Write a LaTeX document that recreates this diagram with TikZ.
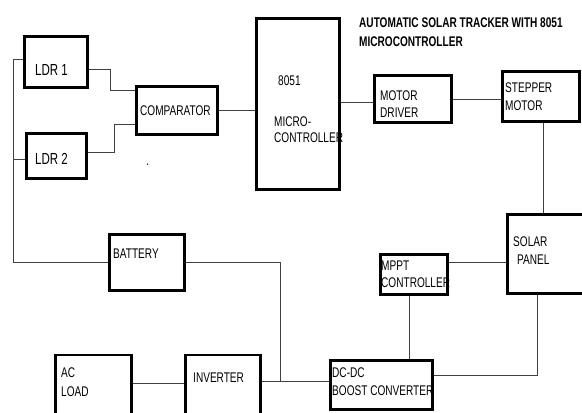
\documentclass[tikz,border=0pt]{standalone}
\usepackage{fontspec}
\setmainfont{Liberation Sans}[FakeStretch=0.72]
\usetikzlibrary{positioning}

\begin{document}
\begin{tikzpicture}[x=1pt, y=-1pt,
    block/.style={rectangle, draw, line width=2.6pt, inner sep=0pt},
    wire/.style={draw=black!75, line width=0.9pt},
    lbl/.style={inner sep=0pt, align=left, anchor=base west, font=\fontsize{14}{17}\selectfont},
    lbls/.style={lbl, anchor=north west}
]
\useasboundingbox (0,0) rectangle (582,413);
\clip (0,0) rectangle (582,413);
% blocks
\node[block, minimum width=63, minimum height=51] (ldr1) at (56,62) {};
\node[block, minimum width=60, minimum height=45] (ldr2) at (56.5,156) {};
\node[block, minimum width=81, minimum height=48] (comp) at (177,110.5) {};
\node[block, minimum width=83, minimum height=171] (mcu) at (298,104) {};
\node[block, minimum width=77, minimum height=47] (drv) at (413,99) {};
\node[block, minimum width=77, minimum height=50] (stm) at (541,96.5) {};
\node[block, minimum width=85, minimum height=79] (sol) at (550,254) {};
\node[block, minimum width=67, minimum height=40] (mppt) at (414,274.5) {};
\node[block, minimum width=102, minimum height=49] (dcdc) at (381.5,385) {};
\node[block, minimum width=75, minimum height=56] (bat) at (147,262.5) {};
\node[block, minimum width=76, minimum height=66] (ac) at (93.5,388) {};
\node[block, minimum width=75, minimum height=66] (inv) at (223,388) {};
% texts
\node[lbl, font=\fontsize{16}{19}\selectfont] (ldr1t) at (35,75) {LDR 1};
\node[lbl, font=\fontsize{16}{19}\selectfont] (ldr2t) at (35,164) {LDR 2};
\node[lbl] (compt) at (140,115) {COMPARATOR};
\node[lbl] (mcut1) at (278,85) {8051};
\node[lbls, font=\fontsize{14}{16}\selectfont] (mcut2) at (274,117) {MICRO-\\CONTROLLER};
\node[lbls] (drvt) at (380,91) {MOTOR\\DRIVER};
\node[lbls, font=\fontsize{14}{18}\selectfont] (stmt) at (505,83) {STEPPER\\MOTOR};
\node[lbls, font=\fontsize{14}{18}\selectfont] (solt) at (513,237) {SOLAR\\\hspace*{4pt}PANEL};
\node[lbls] (mpptt) at (381,261) {MPPT\\CONTROLLER};
\node[lbls, font=\fontsize{14}{18}\selectfont] (dcdct) at (332,368) {DC-DC\\BOOST CONVERTER};
\node[lbl] (batt) at (113,258) {BATTERY};
\node[lbls, font=\fontsize{14}{19}\selectfont] (act) at (61,368) {AC\\LOAD};
\node[lbl] (invt) at (193,382) {INVERTER};
\node[lbl] (dot) at (146,165) {.};
\node[lbls, font=\fontsize{14}{19}\selectfont\bfseries] (title) at (359,18) {AUTOMATIC SOLAR TRACKER WITH 8051\\MICROCONTROLLER};
% bus points
\coordinate (busT) at (13,59);
\coordinate (busB) at (13,262);
\coordinate (tap) at (280,262);
\coordinate (join) at (280,381);
% connectors
\draw[wire] (ldr1.west |- busT) -- (busT) -- (busB) -- (bat.west |- busB);
\draw[wire] (ldr2.west |- 0,159) -- (busT |- 0,159);
\draw[wire] (ldr1.east |- 0,69) -| (110,90) -- (comp.west |- 0,90);
\draw[wire] (ldr2.east |- 0,152) -| (114,124) -- (comp.west |- 0,124);
\draw[wire] (comp.east) -- (mcu.west |- comp.east);
\draw[wire] (mcu.east |- 0,102) -- (drv.west |- 0,102);
\draw[wire] (drv.east) -- (stm.west |- drv.east);
\draw[wire] (stm.south -| 543,0) -- (sol.north -| 543,0);
\draw[wire] (mppt.east |- 0,262) -- (sol.west |- 0,262);
\draw[wire] (mppt.south -| 409,0) -- (dcdc.north -| 409,0);
\draw[wire] (sol.south -| 537,0) |- (dcdc.east |- 0,375);
\draw[wire] (bat.east |- tap) -- (tap) -- (join);
\draw[wire] (inv.east |- join) -- (dcdc.west |- join);
\draw[wire] (ac.east |- 0,383) -- (inv.west |- 0,383);
\end{tikzpicture}
\end{document}
